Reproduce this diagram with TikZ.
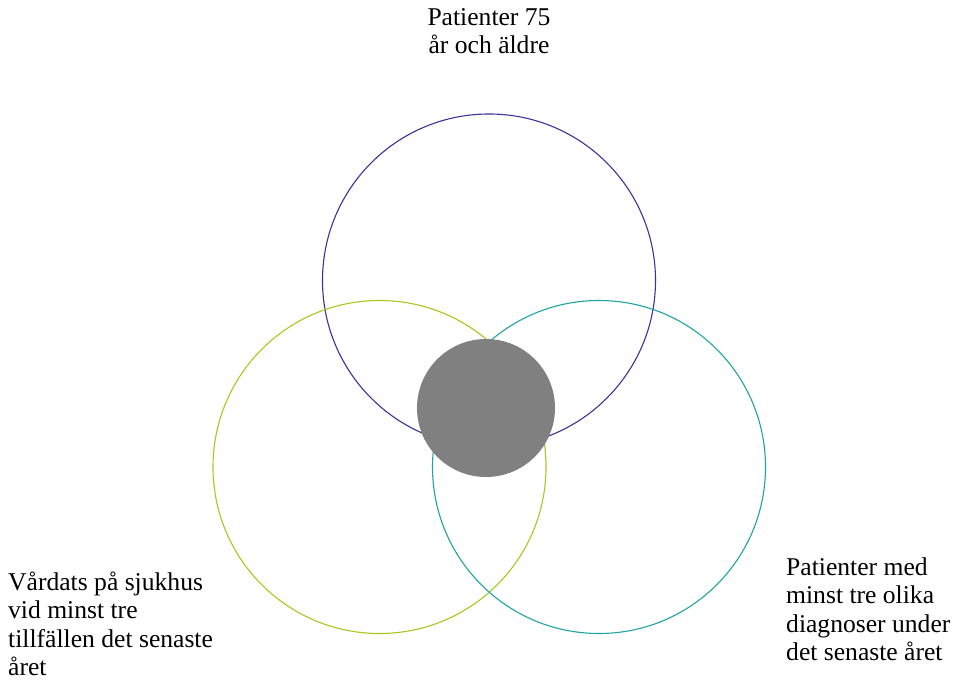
\documentclass[tikz,border=0pt]{standalone}
\usepackage{fontspec}
\setmainfont{Liberation Serif}
\definecolor{cTop}{HTML}{3C3398}
\definecolor{cLeft}{HTML}{A8C81E}
\definecolor{cRight}{HTML}{1FA3A3}
\definecolor{cCore}{HTML}{808080}
\begin{document}
\begin{tikzpicture}[x=1pt,y=-1pt,
  ring/.style={draw,line width=1.1pt,fill=none},
  lbl/.style={font=\fontsize{25.6}{28.5}\selectfont,inner sep=0pt}]
\useasboundingbox (0,0) rectangle (960,684);
\draw[ring,cTop] (489,280.5) circle (166.5);
\draw[ring,cLeft] (379.5,467) circle (166.5);
\draw[ring,cRight] (599,467) circle (166.5);
\fill[cCore] (486,408) circle (69);
\node[lbl,align=center] (top) at (489,31) {Patienter 75\\år och äldre};
\node[lbl,align=left,anchor=west] (left) at (8,624) {Vårdats på sjukhus\\vid minst tre\\tillfällen det senaste\\året};
\node[lbl,align=left,anchor=west] (right) at (786,609) {Patienter med\\minst tre olika\\diagnoser under\\det senaste året};
\end{tikzpicture}
\end{document}
